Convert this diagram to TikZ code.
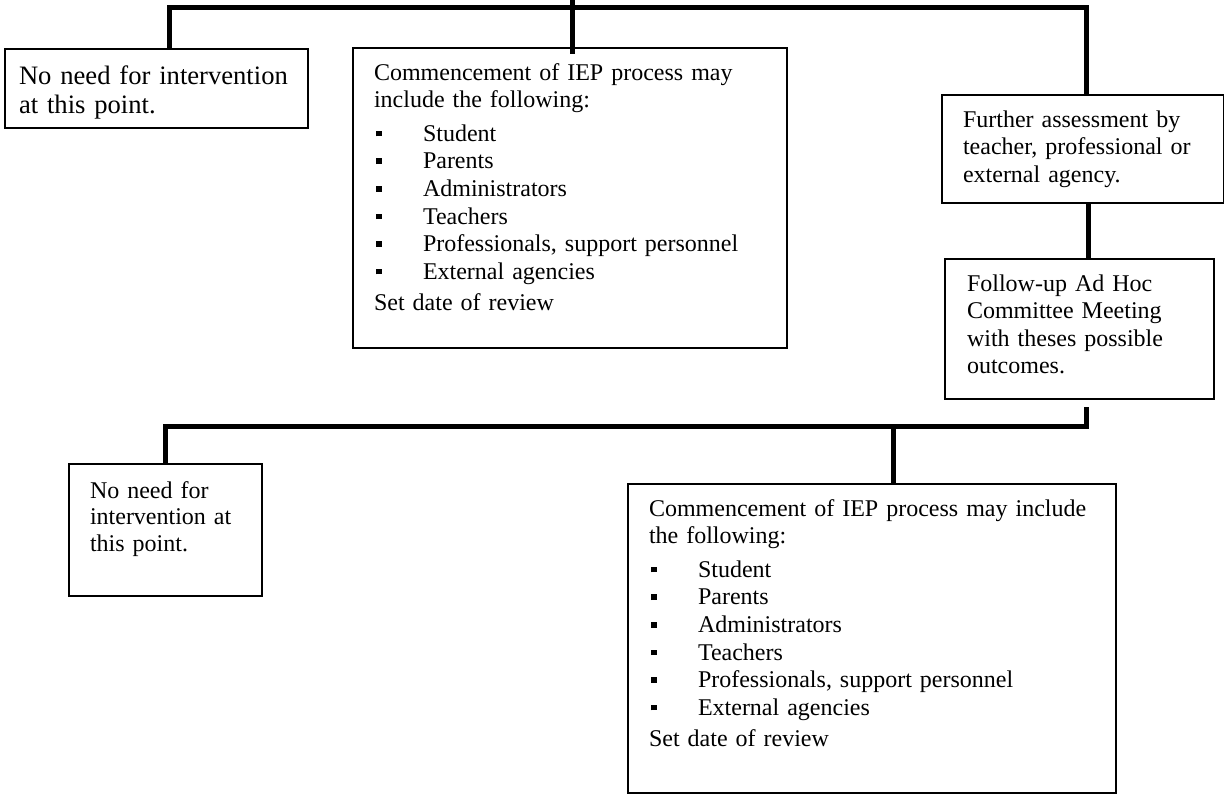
\documentclass[tikz,border=0pt]{standalone}
\usepackage{fontspec}
\setmainfont{Liberation Serif}
\usetikzlibrary{positioning, calc}

\newcommand{\sqitem}[1]{\makebox[24.5pt][l]{\hspace{1pt}\rule[2.4pt]{2.8pt}{2.8pt}}#1}

\tikzset{
    stagebox/.style={
        rectangle, draw=black, line width=1pt, anchor=north west,
        align=left, inner xsep=10.5pt, inner ysep=0pt,
        text height=16pt, font=\fontsize{12}{13.8}\selectfont
    },
    bigbox/.style={stagebox, inner xsep=7pt, text height=17.5pt, font=\fontsize{13.3}{14.5}\selectfont},
    bus/.style={line width=2.5pt, line join=miter},
}

\begin{document}
\begin{tikzpicture}[x=0.5pt, y=-0.5pt]
    \useasboundingbox (0,0) rectangle (1224,793);

    \node[bigbox, text width=137.5pt, text depth=22pt] (noneedA) at (4,48) {No need for intervention\\at this point.};
    \node[stagebox, text width=196pt, text depth=134pt] (iepA) at (352,47) {Commencement of IEP process may\\include the following:\\[3pt]\sqitem{Student}\\\sqitem{Parents}\\\sqitem{Administrators}\\\sqitem{Teachers}\\\sqitem{Professionals, support personnel}\\\sqitem{External agencies}\\[2pt]Set date of review};
    \node[stagebox, text width=120pt, text depth=38pt] (further) at (941,94) {Further assessment by\\teacher, professional or\\external agency.};
    \node[stagebox, inner xsep=11pt, text width=112.5pt, text depth=54pt] (followup) at (944,258) {Follow-up Ad Hoc\\Committee Meeting\\with theses possible\\outcomes.};

    \node[stagebox, text width=75.5pt, text height=17pt, text depth=49pt, font=\fontsize{12}{13.25}\selectfont] (noneedB) at (68,463) {No need for\\intervention at\\this point.};
    \node[stagebox, text width=223pt, text depth=138.5pt] (iepB) at (627,483) {Commencement of IEP process may include\\the following:\\[3pt]\sqitem{Student}\\\sqitem{Parents}\\\sqitem{Administrators}\\\sqitem{Teachers}\\\sqitem{Professionals, support personnel}\\\sqitem{External agencies}\\[2pt]Set date of review};

    \coordinate (entry) at (572,0);
    \coordinate (busA) at (572,7);
    \coordinate (busB) at (893,426);

    \draw[bus] (entry) -- ([yshift=-3.5pt]entry |- iepA.north);
    \draw[bus] ([xshift=6.25pt]noneedA.north) |- (busA) -| ([xshift=1.5pt]further.north);
    \draw[bus] ([xshift=2.5pt]further.south) -- ([xshift=2.5pt]further.south |- followup.north);
    \draw[bus] ([shift={(1.5pt,-3.5pt)}]further.south |- followup.south) |- (busB) -| (noneedB.north);
    \draw[bus] (busB) -- (busB |- iepB.north);
\end{tikzpicture}
\end{document}
